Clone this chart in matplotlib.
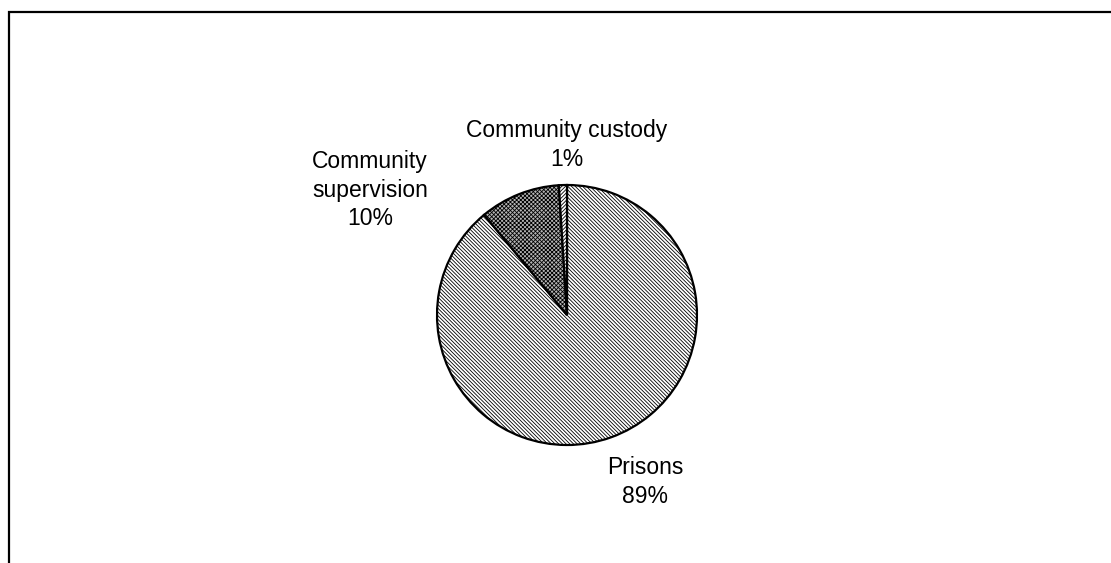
import matplotlib.pyplot as plt
from matplotlib.patches import Rectangle

plt.rcParams['font.family'] = ['Liberation Sans', 'DejaVu Sans']
plt.rcParams['hatch.linewidth'] = 0.6

labels = ['Prisons', 'Community supervision', 'Community custody']
shares = [89, 10, 1]
label_text = ['Prisons\n89%', 'Community\nsupervision\n10%', 'Community custody\n1%']
label_pos = [(645, 81), (370, 373), (567, 418)]

hatches = ['\\' * 9, 'x' * 8, '/' * 9]
faces = ['white', '#b4b4b4', 'white']

fig = plt.figure(figsize=(11.11, 5.63), dpi=100)
ax = fig.add_axes([0, 0, 1, 1])
ax.set_xlim(0, 1111)
ax.set_ylim(0, 563)
ax.set_aspect('equal')
ax.axis('off')

# outer chart border, cropped on right and bottom
ax.add_patch(Rectangle((8.5, -20), 1200, 571, fill=False, lw=1.6, ec='black'))

wedges, _ = ax.pie(shares, startangle=90, counterclock=False,
                   center=(567, 248), radius=130, frame=True,
                   wedgeprops=dict(ec='black', lw=1.6))
for w, h, fc in zip(wedges, hatches, faces):
    w.set_facecolor(fc)
    w.set_hatch(h)
ax.set_xlim(0, 1111)
ax.set_ylim(0, 563)
ax.axis('off')

for txt, (x, y) in zip(label_text, label_pos):
    ax.text(x, y, txt, ha='center', va='center', fontsize=16.5, linespacing=1.33)

fig.savefig('out.png', dpi=100)
